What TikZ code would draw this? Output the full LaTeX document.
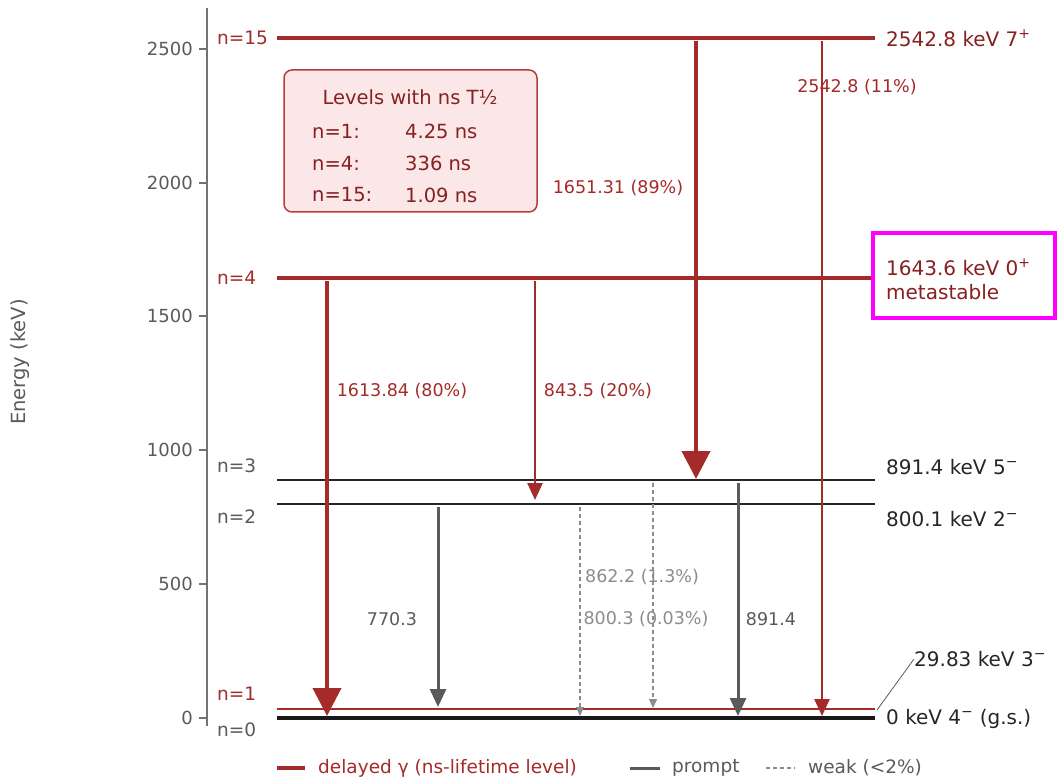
\documentclass[tikz,border=0pt]{standalone}
\usepackage{fontspec}
\setmainfont{DejaVu Sans}
\usetikzlibrary{arrows.meta}

\definecolor{delred}{RGB}{165,42,42}
\definecolor{lvltext}{RGB}{135,32,32}
\definecolor{promptgray}{RGB}{90,90,90}
\definecolor{weakgray}{RGB}{140,140,140}
\definecolor{axgray}{RGB}{115,115,115}
\definecolor{boxfill}{RGB}{251,231,231}
\definecolor{boxedge}{RGB}{180,62,62}
\definecolor{metapink}{RGB}{255,0,255}

\begin{document}
\begin{tikzpicture}[x=1pt, y=-1pt,
        every node/.style={inner sep=0pt, font=\fontsize{18.5}{22}\selectfont},
        lvllabel/.style={anchor=west, font=\fontsize{20}{24}\selectfont},
        boxtext/.style={text=lvltext, font=\fontsize{19.5}{23}\selectfont},
        gamlabel/.style={font=\fontsize{17.5}{21}\selectfont},
        lvl/.style={line width=2pt, black!85},
        redlvl/.style={line width=3.5pt, delred},
        bigred/.style={line width=4pt, delred, -{Triangle[length=28pt, width=28pt]}},
        thinred/.style={line width=2.5pt, delred, -{Triangle[length=17pt, width=15pt]}},
        promptarr/.style={line width=3pt, promptgray, -{Triangle[length=18pt, width=16pt]}},
        weakarr/.style={line width=1.2pt, weakgray, dash pattern=on 4pt off 3pt, -{Triangle[length=9pt, width=8pt]}},
        ]
        \useasboundingbox (0, 0) rectangle (1057, 778);

        % axis
        \draw[axgray, line width=1.5pt] (207, 8) -- (207, 726);
        \foreach \e/\y in {0/718, 500/584, 1000/450, 1500/316, 2000/183, 2500/49} {
                \draw[axgray, line width=1.2pt] (199, \y) -- (207, \y);
                \node[anchor=east, text=promptgray, font=\fontsize{18}{22}\selectfont] at (193, \y) (tick\e) { \e };
        }
        \node[rotate=90, text=promptgray, font=\fontsize{19.5}{23}\selectfont] at (20, 362) (ylabel) { Energy (keV) };

        % levels
        \draw[redlvl] (277, 38) -- (875, 38);
        \draw[redlvl] (277, 278) -- (875, 278);
        \draw[lvl] (277, 480) -- (875, 480);
        \draw[lvl] (277, 504) -- (875, 504);
        \draw[line width=1.8pt, delred] (277, 709) -- (875, 709);
        \draw[line width=3.5pt, black!90] (277, 718) -- (875, 718);

        \node[anchor=west, text=delred] at (217, 38) (n15) { n=15 };
        \node[anchor=west, text=delred] at (217, 278) (n4) { n=4 };
        \node[anchor=west, text=promptgray] at (217, 466) (n3) { n=3 };
        \node[anchor=west, text=promptgray] at (217, 517) (n2) { n=2 };
        \node[anchor=west, text=delred] at (217, 694) (n1) { n=1 };
        \node[anchor=west, text=promptgray] at (217, 730) (n0) { n=0 };

        \node[lvllabel, text=lvltext] at (886, 38) (E15) { 2542.8 keV 7\textsuperscript{+} };
        \node[draw=metapink, line width=3.5pt, minimum width=182, minimum height=85] at (964, 275.5) (meta) { };
        \node[lvllabel, text=lvltext] at (886, 267) (E4) { 1643.6 keV 0\textsuperscript{+} };
        \node[lvllabel, text=lvltext] at (886, 292) (E4b) { metastable };
        \node[lvllabel, text=black!85] at (886, 467) (E3) { 891.4 keV 5\textsuperscript{−} };
        \node[lvllabel, text=black!85] at (886, 519) (E2) { 800.1 keV 2\textsuperscript{−} };
        \node[lvllabel, text=black!85] at (914, 659) (E1) { 29.83 keV 3\textsuperscript{−} };
        \node[lvllabel, text=black!85] at (886, 719) (E0) { 0 keV 4\textsuperscript{−} (g.s.) };
        \coordinate (lead1) at (877, 710);
        \draw[promptgray, line width=0.8pt] (lead1) -- (E1.west);

        % half-life box
        \node[draw=boxedge, fill=boxfill, line width=1.5pt, rounded corners=8pt, minimum width=253, minimum height=142] at (410.5, 141) (nsbox) { };
        \node[boxtext] at (410, 97) (nstitle) { Levels with ns T½ };
        \node[boxtext, anchor=west] at (312, 131) (b1) { n=1: };
        \node[boxtext, anchor=west] at (405, 131) (v1) { 4.25 ns };
        \node[boxtext, anchor=west] at (312, 163) (b4) { n=4: };
        \node[boxtext, anchor=west] at (405, 163) (v4) { 336 ns };
        \node[boxtext, anchor=west] at (312, 195) (b15) { n=15: };
        \node[boxtext, anchor=west] at (405, 195) (v15) { 1.09 ns };

        % transitions
        \coordinate (g1a) at (327, 281);
        \coordinate (g1b) at (327, 716);
        \coordinate (g2a) at (535, 281);
        \coordinate (g2b) at (535, 500);
        \coordinate (g3a) at (696, 41);
        \coordinate (g3b) at (696, 479);
        \coordinate (g4a) at (822, 41);
        \coordinate (g4b) at (822, 716);
        \coordinate (g5a) at (438, 507);
        \coordinate (g5b) at (438, 707);
        \coordinate (g6a) at (653, 483);
        \coordinate (g6b) at (653, 708);
        \coordinate (g7a) at (580, 507);
        \coordinate (g7b) at (580, 716);
        \coordinate (g8a) at (738, 483);
        \coordinate (g8b) at (738, 716);

        \draw[bigred] (g1a) -- (g1b);
        \draw[thinred] (g2a) -- (g2b);
        \draw[bigred] (g3a) -- (g3b);
        \draw[thinred] (g4a) -- (g4b);
        \draw[promptarr] (g5a) -- (g5b);
        \draw[weakarr] (g6a) -- (g6b);
        \draw[weakarr] (g7a) -- (g7b);
        \draw[promptarr] (g8a) -- (g8b);

        \node[gamlabel, text=delred] at (402, 391) (l1) { 1613.84 (80\%) };
        \node[gamlabel, text=delred] at (598, 391) (l2) { 843.5 (20\%) };
        \node[gamlabel, text=delred] at (618, 188) (l3) { 1651.31 (89\%) };
        \node[gamlabel, text=delred] at (857, 87) (l4) { 2542.8 (11\%) };
        \node[gamlabel, text=promptgray] at (392, 619) (l5) { 770.3 };
        \node[gamlabel, text=weakgray] at (642, 577) (l6) { 862.2 (1.3\%) };
        \node[gamlabel, text=weakgray] at (646, 619) (l7) { 800.3 (0.03\%) };
        \node[gamlabel, text=promptgray] at (771, 619) (l8) { 891.4 };

        % legend
        \draw[delred, line width=4pt] (277, 768) -- (305, 768);
        \node[anchor=west, text=delred] at (318, 768) (leg1) { delayed γ (ns-lifetime level) };
        \draw[promptgray, line width=3pt] (630, 768) -- (660, 768);
        \node[anchor=west, text=promptgray] at (672, 768) (leg2) { prompt };
        \draw[weakgray, line width=1.2pt, dash pattern=on 4pt off 3pt] (766, 768) -- (795, 768);
        \node[anchor=west, text=promptgray] at (808, 768) (leg3) { weak (<2\%) };

        \end{tikzpicture}
\end{document}
